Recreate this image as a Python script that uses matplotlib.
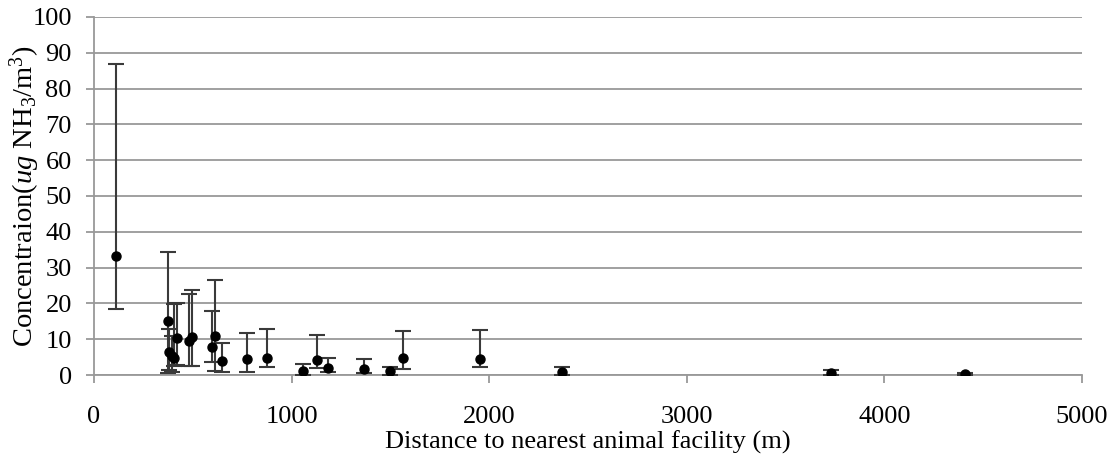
import numpy as np
import matplotlib
matplotlib.use('Agg')
from matplotlib import pyplot as plt

# distance (m), concentration and error-bar ends
distance = [112, 372, 380, 392, 405, 421, 480, 497, 595, 612, 650, 775, 877,
            1055, 1127, 1185, 1365, 1498, 1565, 1955, 2369, 3730, 4410]
conc = [33.1, 15.1, 6.5, 5.3, 4.8, 10.2, 9.6, 10.5, 7.7, 11.0, 3.9, 4.5, 4.8,
        1.1, 4.2, 1.9, 1.8, 1.1, 4.8, 4.5, 0.7, 0.6, 0.2]
upper = [86.8, 34.4, 12.8, 10.9, 19.9, 20.2, 22.7, 23.7, 17.9, 26.5, 9.0, 11.8, 12.9,
         3.0, 11.1, 4.7, 4.4, 2.3, 12.3, 12.5, 2.1, 1.4, 0.6]
lower = [18.3, 0.5, 1.4, 0.8, 2.6, 2.8, 2.5, 2.5, 3.7, 1.2, 0.9, 0.9, 2.3,
         0.0, 2.0, 0.8, 0.5, 0.0, 1.6, 2.3, 0.0, 0.0, 0.0]

plt.rcParams['font.family'] = ['Liberation Serif', 'DejaVu Serif']
plt.rcParams['mathtext.fontset'] = 'custom'
plt.rcParams['mathtext.rm'] = 'Liberation Serif'
plt.rcParams['mathtext.it'] = 'Liberation Serif:italic'

fig = plt.figure(figsize=(11.13, 4.59), dpi=100)
ax = fig.add_axes([0.0845, 0.183, 0.8877, 0.78])

c = np.array(conc)
yerr = [c - np.array(lower), np.array(upper) - c]
ax.errorbar(distance, conc, yerr=yerr, fmt='o', color='black', markersize=6.5,
            ecolor='#3a3a3a', elinewidth=1.5, capsize=6, capthick=1.5, zorder=3)

ax.set_xlim(0, 5000)
ax.set_ylim(0, 100)
ax.set_xticks(np.arange(0, 5001, 1000))
ax.set_yticks(np.arange(0, 101, 10))
ax.yaxis.grid(True, color='#999999', linewidth=1.3)
ax.set_axisbelow(True)

for s in ['top', 'right']:
    ax.spines[s].set_visible(False)
for s in ['left', 'bottom']:
    ax.spines[s].set_color('#999999')
    ax.spines[s].set_linewidth(1.3)
ax.tick_params(axis='both', colors='#999999', length=6, width=1.3, labelsize=19,
               labelcolor='black')
ax.tick_params(axis='x', pad=16)
ax.tick_params(axis='y', pad=10)

ax.set_xlabel('Distance to nearest animal facility (m)', fontsize=19, labelpad=2)
ax.set_ylabel(r'Concentraion($\mathit{ug}$ NH$_3$/m$^3$)', fontsize=20.5, labelpad=-7)

plt.savefig('out.png', dpi=100)
